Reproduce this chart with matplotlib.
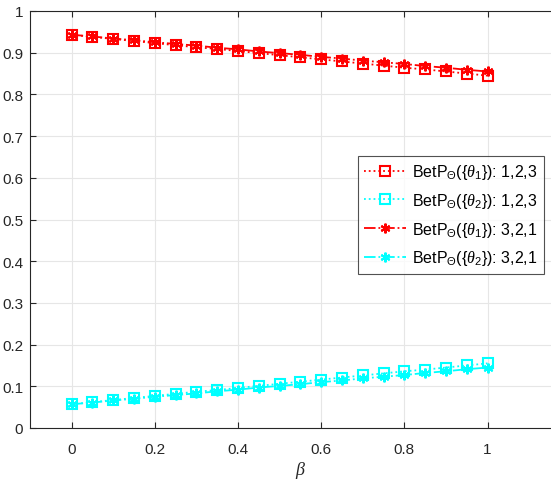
import numpy as np
import matplotlib
matplotlib.use('Agg')
import matplotlib.pyplot as plt

plt.rcParams['font.family'] = ['Liberation Sans', 'DejaVu Sans']
plt.rcParams['mathtext.fontset'] = 'custom'
plt.rcParams['mathtext.it'] = 'Liberation Serif:italic'
plt.rcParams['mathtext.rm'] = 'Liberation Sans'

beta = [0.0, 0.05, 0.1, 0.15, 0.2, 0.25, 0.3, 0.35, 0.4, 0.45, 0.5,
        0.55, 0.6, 0.65, 0.7, 0.75, 0.8, 0.85, 0.9, 0.95, 1.0]

red_sq = [0.943, 0.938, 0.933, 0.928, 0.923, 0.918, 0.913, 0.909, 0.904, 0.899, 0.894,
          0.889, 0.884, 0.879, 0.874, 0.869, 0.864, 0.860, 0.855, 0.850, 0.845]
cyan_sq = [0.057, 0.062, 0.067, 0.072, 0.077, 0.082, 0.087, 0.091, 0.096, 0.101, 0.106,
           0.111, 0.116, 0.121, 0.126, 0.131, 0.136, 0.140, 0.145, 0.150, 0.155]
red_st = [0.943, 0.939, 0.934, 0.930, 0.925, 0.921, 0.917, 0.912, 0.908, 0.903, 0.899,
          0.895, 0.890, 0.886, 0.881, 0.877, 0.873, 0.868, 0.864, 0.859, 0.855]
cyan_st = [0.057, 0.061, 0.066, 0.070, 0.075, 0.079, 0.083, 0.088, 0.092, 0.097, 0.101,
           0.105, 0.110, 0.114, 0.119, 0.123, 0.127, 0.132, 0.136, 0.141, 0.145]

labels = [r'BetP$_{\Theta}$({$\theta_1$}): 1,2,3',
          r'BetP$_{\Theta}$({$\theta_2$}): 1,2,3',
          r'BetP$_{\Theta}$({$\theta_1$}): 3,2,1',
          r'BetP$_{\Theta}$({$\theta_2$}): 3,2,1']

fig = plt.figure(figsize=(5.51, 4.85), dpi=100)
# axes runs past the right edge of the figure (cropped like the original)
ax_w = 570.7 - 30
ax = fig.add_axes([30 / 551, 56 / 485, ax_w / 551, (429 - 12) / 485])

red = '#ff0000'
cyan = '#00ffff'
ast = (6, 2, 0)
ax.plot(beta, red_sq, ':', color=red, marker='s', mfc='none', ms=7, mew=1.5, lw=1.3, label=labels[0])
ax.plot(beta, cyan_sq, ':', color=cyan, marker='s', mfc='none', ms=7, mew=1.5, lw=1.3, label=labels[1])
ax.plot(beta, red_st, '-.', color=red, marker=ast, ms=7, mew=1.5, lw=1.3, label=labels[2])
ax.plot(beta, cyan_st, '-.', color=cyan, marker=ast, ms=7, mew=1.5, lw=1.3, label=labels[3])

ax.set_xlim(-0.1, 1.2)
ax.set_ylim(0, 1)
ax.set_xticks([0, 0.2, 0.4, 0.6, 0.8, 1.0, 1.2])
ax.set_xticklabels(['0', '0.2', '0.4', '0.6', '0.8', '1', ''])
ax.set_yticks(np.arange(0, 1.01, 0.1))
ax.set_yticklabels(['0', '0.1', '0.2', '0.3', '0.4', '0.5', '0.6', '0.7', '0.8', '0.9', '1'])
ax.tick_params(direction='in', length=4, width=0.8, labelsize=11, colors='#262626',
               top=True, right=True)
ax.tick_params(axis='x', pad=10)
ax.tick_params(axis='y', pad=5)
ax.grid(True, color='#e6e6e6', linewidth=0.8)
ax.set_axisbelow(True)
for s in ax.spines.values():
    s.set_color('#262626')
    s.set_linewidth(0.8)

ax.set_xlabel(r'$\beta$', fontsize=13, color='#262626', labelpad=2)

leg = ax.legend(loc='upper left', bbox_to_anchor=((358 - 30) / ax_w, 1 - (157 - 12) / 417),
                fontsize=11.5, frameon=True, fancybox=False, edgecolor='#262626',
                handlelength=2.6, handletextpad=0.4, borderpad=0.4, labelspacing=0.6,
                borderaxespad=0)
leg.get_frame().set_linewidth(0.8)

fig.savefig('out.png', dpi=100)
